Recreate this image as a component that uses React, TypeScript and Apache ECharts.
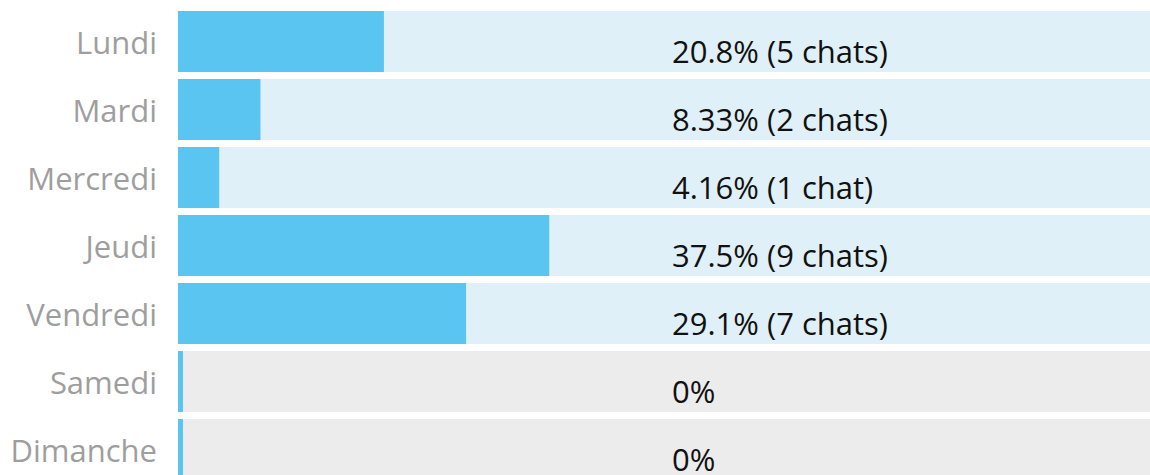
import React, { useEffect, useRef } from "react";
import * as echarts from "echarts";

const days = ["Lundi", "Mardi", "Mercredi", "Jeudi", "Vendredi", "Samedi", "Dimanche"];
const percents = [20.8, 8.33, 4.16, 37.5, 29.1, 0, 0];
const chats = [5, 2, 1, 9, 7, 0, 0];
const fullScale = [100, 100, 100, 100, 100, 100, 100];
const periodText = "01/04/2024 au 07/04/2024";

const FONT = "'Open Sans', 'Noto Sans', sans-serif";

export default function App() {
  const ref = useRef<HTMLDivElement>(null);
  useEffect(() => {
    if (!ref.current) return;
    const chart = echarts.init(ref.current, null, { renderer: "svg" });
    const labelText = (i: number) => {
      const p = percents[i];
      const c = chats[i];
      if (c === 0) return `${p}%`;
      return `${p}% (${c} ${c === 1 ? "chat" : "chats"})`;
    };
    chart.setOption({
      animation: false,
      backgroundColor: "#ffffff",
      graphic: [
        {
          type: "text",
          x: 435,
          y: -11.5,
          silent: true,
          style: {
            text: periodText,
            fontFamily: "'DejaVu Sans', sans-serif",
            fontSize: 26,
            fill: "#9e9e9e",
            verticalAlign: "middle",
            align: "left",
          },
        },
      ],
      grid: { left: 178, top: 7.5, width: 990, height: 476, containLabel: false },
      xAxis: {
        type: "value",
        min: 0,
        max: 100,
        show: false,
      },
      yAxis: {
        type: "category",
        data: days,
        inverse: true,
        axisLine: { show: false },
        axisTick: { show: false },
        splitLine: { show: false },
        axisLabel: {
          color: "#9e9e9e",
          fontFamily: FONT,
          fontSize: 31,
          margin: 21,
          padding: [11, 0, 0, 0],
        },
      },
      series: [
        {
          type: "bar",
          name: "fond",
          data: fullScale.map((v, i) => ({
            value: v,
            itemStyle: { color: chats[i] > 0 ? "#e0f0f8" : "#ececec" },
          })),
          barWidth: 61,
          barGap: "-100%",
          silent: true,
          label: {
            show: true,
            position: [494, 40],
            align: "left",
            verticalAlign: "middle",
            color: "#111111",
            fontFamily: FONT,
            fontSize: 31,
            formatter: (p: any) => labelText(p.dataIndex),
          },
        },
        {
          type: "bar",
          name: "chats",
          data: percents,
          barWidth: 61,
          barGap: "-100%",
          barMinHeight: 5,
          itemStyle: { color: "#5bc5f2" },
        },
      ],
    });
    return () => chart.dispose();
  }, []);
  return (
    <div style={{ position: "absolute", left: 0, top: 0, width: 1150, height: 475, overflow: "hidden" }}>
      <div ref={ref} style={{ width: 1170, height: 490 }} />
    </div>
  );
}
